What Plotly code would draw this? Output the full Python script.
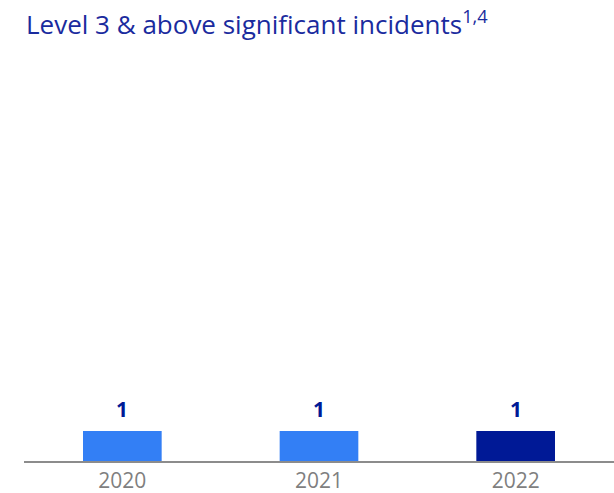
import plotly.graph_objects as go

years = ["2020", "2021", "2022"]
incidents = [1, 1, 1]
bar_colors = ["#337ff5", "#337ff5", "#001996"]
title_text = "Level 3 & above significant incidents<sup>1,4</sup>"

fig = go.Figure()
fig.add_trace(go.Bar(
    x=years, y=incidents,
    marker=dict(color=bar_colors, line=dict(width=0)),
    hoverinfo="skip",
))

annotations = [dict(
    text=title_text, xref="paper", yref="paper",
    x=0, y=1, xanchor="left", yanchor="top",
    xshift=0, yshift=59,
    showarrow=False,
    font=dict(family="Open Sans", size=26, color="#1a2b9e"),
)]
for i, v in enumerate(incidents):
    annotations.append(dict(
        x=i, y=v, xref="x", yref="y", text=str(v),
        showarrow=False, yanchor="bottom", yshift=6,
        font=dict(family="Open Sans", size=21, color="#001996", weight="bold"),
    ))

fig.update_layout(
    width=614, height=493,
    margin=dict(l=24, r=0, t=61, b=32),
    paper_bgcolor="white", plot_bgcolor="white",
    bargap=0.6,
    showlegend=False,
    font=dict(family="Open Sans"),
    xaxis=dict(
        type="category", range=[-0.5, len(years) - 0.5],
        showline=True, linecolor="#8c8c8c", linewidth=2,
        showgrid=False, ticks="",
        tickfont=dict(family="Open Sans", size=21, color="#7f7f7f"),
        fixedrange=True,
    ),
    yaxis=dict(
        range=[0, 13.33], visible=False, showgrid=False, zeroline=False,
        fixedrange=True,
    ),
    annotations=annotations,
)

fig.write_html("out.html")
